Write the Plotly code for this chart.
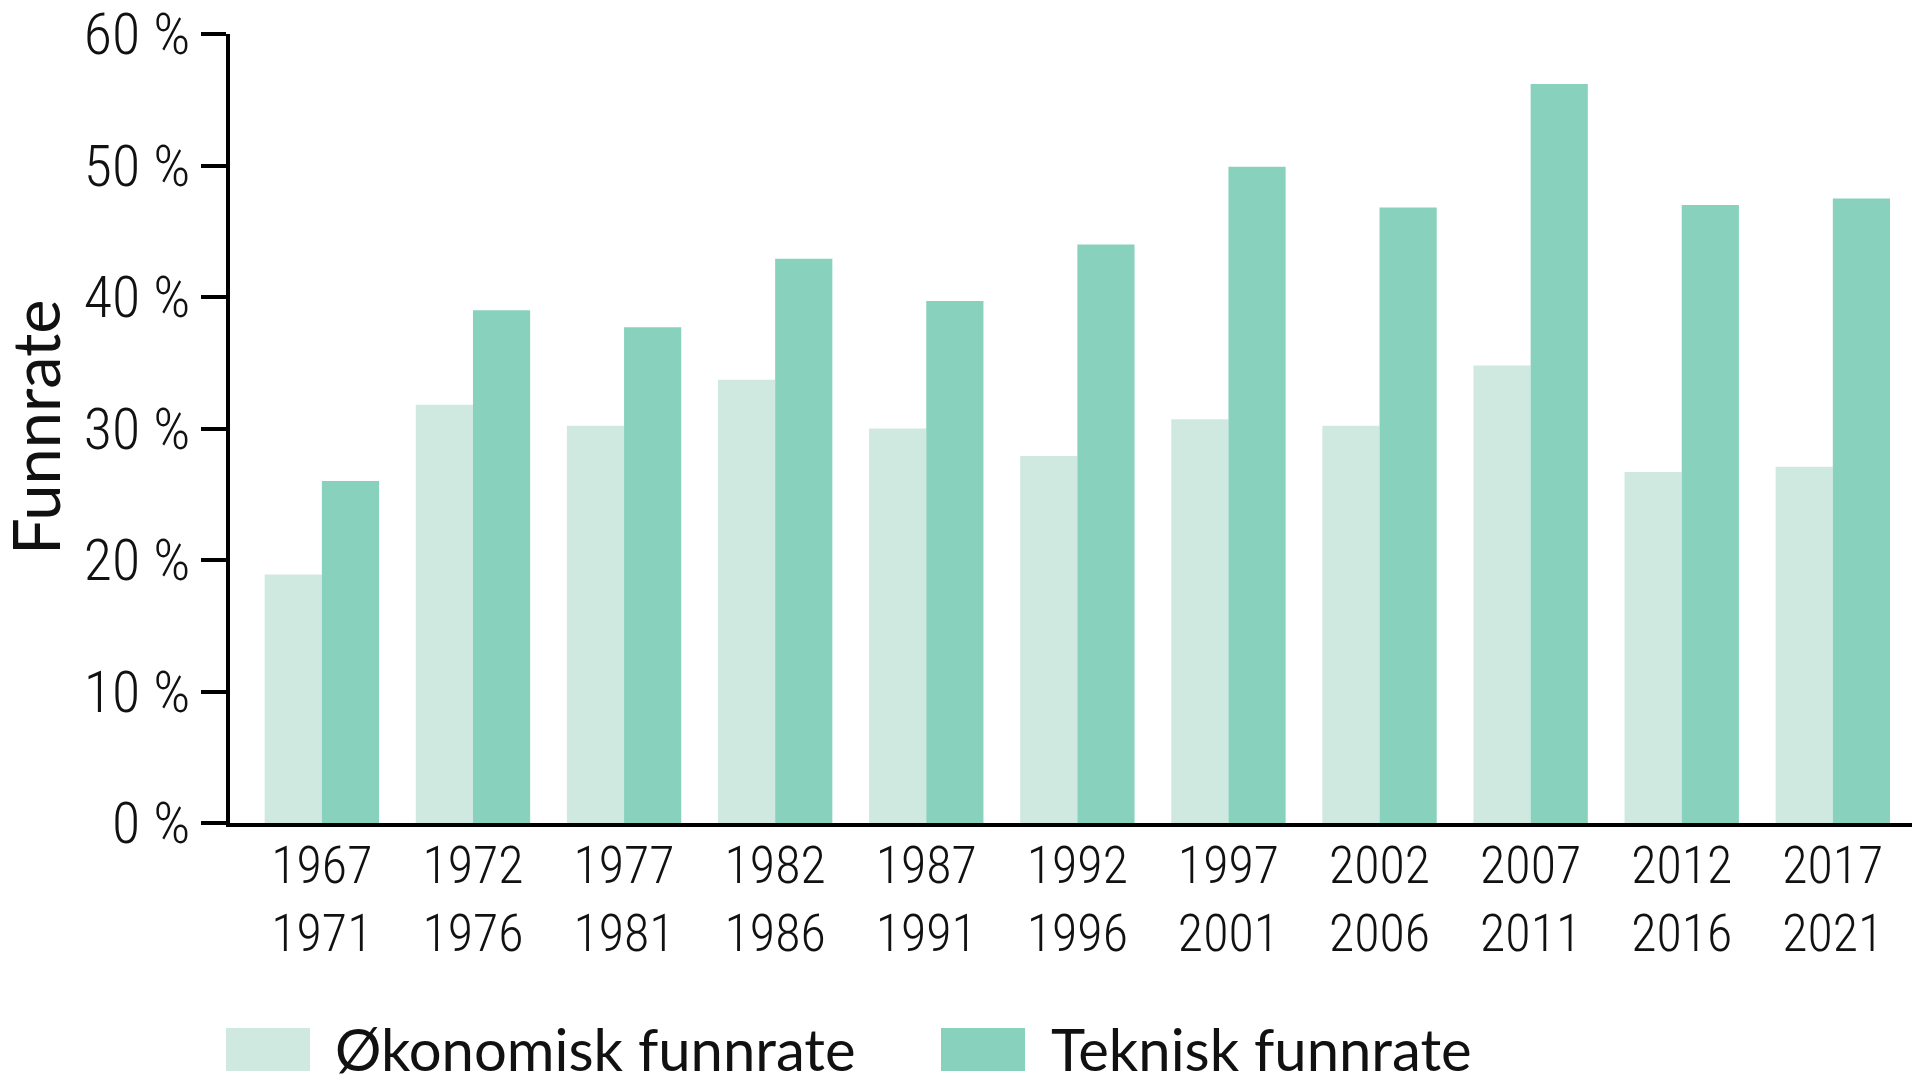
import plotly.graph_objects as go

# perioder (5 år)
perioder = ["1967<br>1971", "1972<br>1976", "1977<br>1981", "1982<br>1986",
            "1987<br>1991", "1992<br>1996", "1997<br>2001", "2002<br>2006",
            "2007<br>2011", "2012<br>2016", "2017<br>2021"]

# funnrate i prosent, lest av figuren
okonomisk = [18.9, 31.8, 30.2, 33.7, 30.0, 27.9, 30.7, 30.2, 34.8, 26.7, 27.1]
teknisk = [26.0, 39.0, 37.7, 42.9, 39.7, 44.0, 49.9, 46.8, 56.2, 47.0, 47.5]

ytick_vals = [0, 10, 20, 30, 40, 50, 60]
ytick_text = ["0 %", "10 %", "20 %", "30 %", "40 %", "50 %", "60 %"]

navn = ["Økonomisk funnrate", "Teknisk funnrate"]
farger = ["#CFE9E1", "#88D2BD"]

# siden har 8 px body-marg, så figuren gjøres litt mindre
W, H = 1912, 1081
ML, MR, MT, MB = 222, 0, 26, 266
tick_font = "Roboto Condensed, DejaVu Sans Condensed, sans-serif"
text_font = "Lato, Roboto, sans-serif"
txt_col = "#111111"

fig = go.Figure()
fig.add_trace(go.Bar(x=perioder, y=okonomisk, name=navn[0],
                     marker=dict(color=farger[0], line=dict(width=0))))
fig.add_trace(go.Bar(x=perioder, y=teknisk, name=navn[1],
                     marker=dict(color=farger[1], line=dict(width=0))))

fig.update_layout(
    template="none",
    width=W, height=H,
    margin=dict(l=ML, r=MR, t=MT, b=MB, pad=0),
    paper_bgcolor="white", plot_bgcolor="white",
    barmode="group", bargap=0.243, bargroupgap=0,
    showlegend=False,
    font=dict(family=tick_font, color=txt_col),
)

fig.update_xaxes(
    type="category", range=[-0.608, 10.577], automargin=False,
    showline=True, linecolor="black", linewidth=4,
    ticks="", showgrid=False, zeroline=False,
    tickfont=dict(size=52, family=tick_font, color=txt_col, weight=300),
    ticklabelstandoff=-6, ticklabeloverflow="allow",
)
fig.update_yaxes(
    range=[0, 60], tickvals=ytick_vals, ticktext=ytick_text, automargin=False,
    showline=True, linecolor="black", linewidth=4,
    ticks="outside", ticklen=25, tickwidth=4, tickcolor="black",
    showgrid=False, zeroline=False,
    tickfont=dict(size=58, family=tick_font, color=txt_col, weight=300),
    ticklabelstandoff=-1, ticklabeloverflow="allow",
)

# posisjoner i sidepiksler (1920x1089) -> paper
def px_x(p):
    return (p - 8 - ML) / (W - ML - MR)

def px_y(p):
    return (H - MB - (p - 8)) / (H - MT - MB)

# aksetittel
fig.add_annotation(xref="paper", yref="paper", x=px_x(35), y=px_y(427),
                   xanchor="center", yanchor="middle", showarrow=False, textangle=-90,
                   text="Funnrate", font=dict(size=65, family=text_font, color=txt_col))

# egen forklaring (legend) under figuren
sw_x = [226, 941]
tx_x = [333, 1049]
for i in range(2):
    fig.add_shape(type="rect", xref="paper", yref="paper",
                  x0=px_x(sw_x[i]), x1=px_x(sw_x[i] + 84),
                  y0=px_y(1071), y1=px_y(1028),
                  fillcolor=farger[i], line=dict(width=0))
    fig.add_annotation(xref="paper", yref="paper", x=px_x(tx_x[i]), y=px_y(1048),
                       xanchor="left", yanchor="middle", showarrow=False,
                       text=navn[i], font=dict(size=58, family=text_font, color=txt_col))

fig.write_html("out.html")
